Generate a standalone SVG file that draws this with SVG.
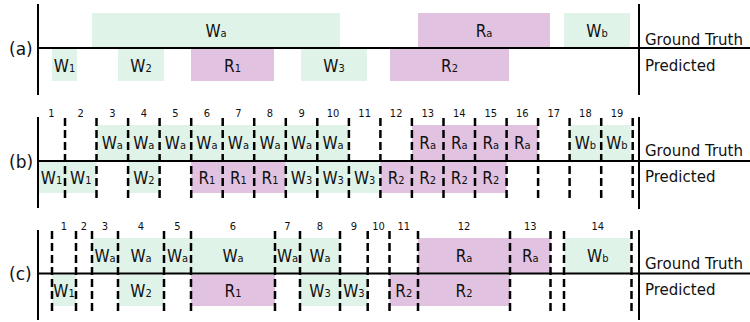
<svg xmlns="http://www.w3.org/2000/svg" width="750" height="322" viewBox="0 0 750 322">
<style>
.g{fill:#dff3e9}
.p{fill:#e1c2e0}
.ax{stroke:#000;stroke-width:2;fill:none}
.ds{stroke:#000;stroke-width:2.5;stroke-dasharray:8 4;fill:none}
text{font-family:"DejaVu Sans Condensed","DejaVu Sans",sans-serif;fill:#111}
.l{font-size:17px;text-anchor:middle}
.s{font-size:11px}
.n{font-size:11px;text-anchor:middle}
.side{font-family:"DejaVu Sans",sans-serif;font-size:15px}
.pn{font-family:"DejaVu Sans",sans-serif;font-size:17px}
</style>
<rect width="750" height="322" fill="#fff"/>

<!-- Panel (a) -->
<g id="panel-a">
  <g id="a-Wa"><rect class="g" x="92" y="13" width="248" height="34"/><text class="l" x="216" y="36.5">W<tspan class="s">a</tspan></text></g>
  <g id="a-Ra"><rect class="p" x="418" y="13" width="132" height="34"/><text class="l" x="484" y="36.5">R<tspan class="s">a</tspan></text></g>
  <g id="a-Wb"><rect class="g" x="564" y="13" width="66" height="34"/><text class="l" x="597" y="36.5">W<tspan class="s">b</tspan></text></g>
  <g id="a-W1"><rect class="g" x="52" y="49" width="25" height="32"/><text class="l" x="64.5" y="71.5">W<tspan class="s">1</tspan></text></g>
  <g id="a-W2"><rect class="g" x="118" y="49" width="46" height="32"/><text class="l" x="141" y="71.5">W<tspan class="s">2</tspan></text></g>
  <g id="a-R1"><rect class="p" x="191" y="49" width="83" height="32"/><text class="l" x="232.5" y="71.5">R<tspan class="s">1</tspan></text></g>
  <g id="a-W3"><rect class="g" x="301" y="49" width="66" height="32"/><text class="l" x="334" y="71.5">W<tspan class="s">3</tspan></text></g>
  <g id="a-R2"><rect class="p" x="390" y="49" width="119" height="32"/><text class="l" x="449.5" y="71.5">R<tspan class="s">2</tspan></text></g>
  <g id="a-lines">
    <line class="ax" x1="38" y1="4" x2="38" y2="95"/>
    <line class="ax" x1="38" y1="48" x2="750" y2="48"/>
    <line class="ax" x1="639" y1="4" x2="639" y2="95"/>
  </g>
  <text class="pn" x="9" y="55">(a)</text>
  <text class="side" x="645" y="45">Ground Truth</text>
  <text class="side" x="645" y="71">Predicted</text>
</g>

<!-- Panel (b) -->
<g id="panel-b">
  <g id="b-Wa"><rect class="g" x="96.5" y="125" width="252.4" height="35"/>
    <text class="l" x="112.3" y="149">W<tspan class="s">a</tspan></text>
    <text class="l" x="143.85" y="149">W<tspan class="s">a</tspan></text>
    <text class="l" x="175.4" y="149">W<tspan class="s">a</tspan></text>
    <text class="l" x="206.95" y="149">W<tspan class="s">a</tspan></text>
    <text class="l" x="238.45" y="149">W<tspan class="s">a</tspan></text>
    <text class="l" x="270" y="149">W<tspan class="s">a</tspan></text>
    <text class="l" x="301.55" y="149">W<tspan class="s">a</tspan></text>
    <text class="l" x="333.1" y="149">W<tspan class="s">a</tspan></text>
  </g>
  <g id="b-Ra"><rect class="p" x="411.9" y="125" width="126.2" height="35"/>
    <text class="l" x="427.7" y="149">R<tspan class="s">a</tspan></text>
    <text class="l" x="459.25" y="149">R<tspan class="s">a</tspan></text>
    <text class="l" x="490.8" y="149">R<tspan class="s">a</tspan></text>
    <text class="l" x="522.35" y="149">R<tspan class="s">a</tspan></text>
  </g>
  <g id="b-Wb"><rect class="g" x="569.6" y="125" width="61" height="35"/>
    <text class="l" x="585.4" y="149">W<tspan class="s">b</tspan></text>
    <text class="l" x="616.95" y="149">W<tspan class="s">b</tspan></text>
  </g>
  <g id="b-W1"><rect class="g" x="38" y="162" width="58.5" height="31"/>
    <text class="l" x="51.5" y="184">W<tspan class="s">1</tspan></text>
    <text class="l" x="80.75" y="184">W<tspan class="s">1</tspan></text>
  </g>
  <g id="b-W2"><rect class="g" x="128.1" y="162" width="31.5" height="31"/>
    <text class="l" x="143.85" y="184">W<tspan class="s">2</tspan></text>
  </g>
  <g id="b-R1"><rect class="p" x="191.2" y="162" width="94.6" height="31"/>
    <text class="l" x="206.95" y="184">R<tspan class="s">1</tspan></text>
    <text class="l" x="238.45" y="184">R<tspan class="s">1</tspan></text>
    <text class="l" x="270" y="184">R<tspan class="s">1</tspan></text>
  </g>
  <g id="b-W3"><rect class="g" x="285.8" y="162" width="94.6" height="31"/>
    <text class="l" x="301.55" y="184">W<tspan class="s">3</tspan></text>
    <text class="l" x="333.1" y="184">W<tspan class="s">3</tspan></text>
    <text class="l" x="364.65" y="184">W<tspan class="s">3</tspan></text>
  </g>
  <g id="b-R2"><rect class="p" x="380.4" y="162" width="126.2" height="31"/>
    <text class="l" x="396.15" y="184">R<tspan class="s">2</tspan></text>
    <text class="l" x="427.7" y="184">R<tspan class="s">2</tspan></text>
    <text class="l" x="459.25" y="184">R<tspan class="s">2</tspan></text>
    <text class="l" x="490.8" y="184">R<tspan class="s">2</tspan></text>
  </g>
  <g id="b-dashes">
    <line class="ds" x1="65" y1="118" x2="65" y2="200"/>
    <line class="ds" x1="96.5" y1="118" x2="96.5" y2="200"/>
    <line class="ds" x1="128.1" y1="118" x2="128.1" y2="200"/>
    <line class="ds" x1="159.6" y1="118" x2="159.6" y2="200"/>
    <line class="ds" x1="191.2" y1="118" x2="191.2" y2="200"/>
    <line class="ds" x1="222.7" y1="118" x2="222.7" y2="200"/>
    <line class="ds" x1="254.2" y1="118" x2="254.2" y2="200"/>
    <line class="ds" x1="285.8" y1="118" x2="285.8" y2="200"/>
    <line class="ds" x1="317.3" y1="118" x2="317.3" y2="200"/>
    <line class="ds" x1="348.9" y1="118" x2="348.9" y2="200"/>
    <line class="ds" x1="380.4" y1="118" x2="380.4" y2="200"/>
    <line class="ds" x1="411.9" y1="118" x2="411.9" y2="200"/>
    <line class="ds" x1="443.5" y1="118" x2="443.5" y2="200"/>
    <line class="ds" x1="475" y1="118" x2="475" y2="200"/>
    <line class="ds" x1="506.6" y1="118" x2="506.6" y2="200"/>
    <line class="ds" x1="538.1" y1="118" x2="538.1" y2="200"/>
    <line class="ds" x1="569.6" y1="118" x2="569.6" y2="200"/>
    <line class="ds" x1="601.2" y1="118" x2="601.2" y2="200"/>
    <line class="ds" x1="632.7" y1="118" x2="632.7" y2="200"/>
  </g>
  <g id="b-lines">
    <line class="ax" x1="38" y1="117" x2="38" y2="208"/>
    <line class="ax" x1="38" y1="161" x2="750" y2="161"/>
    <line class="ax" x1="639" y1="117" x2="639" y2="209"/>
  </g>
  <g id="b-nums">
    <text class="n" x="51.5" y="117">1</text>
    <text class="n" x="80.75" y="117">2</text>
    <text class="n" x="112.3" y="117">3</text>
    <text class="n" x="143.85" y="117">4</text>
    <text class="n" x="175.4" y="117">5</text>
    <text class="n" x="206.95" y="117">6</text>
    <text class="n" x="238.45" y="117">7</text>
    <text class="n" x="270" y="117">8</text>
    <text class="n" x="301.55" y="117">9</text>
    <text class="n" x="333.1" y="117">10</text>
    <text class="n" x="364.65" y="117">11</text>
    <text class="n" x="396.15" y="117">12</text>
    <text class="n" x="427.7" y="117">13</text>
    <text class="n" x="459.25" y="117">14</text>
    <text class="n" x="490.8" y="117">15</text>
    <text class="n" x="522.35" y="117">16</text>
    <text class="n" x="553.85" y="117">17</text>
    <text class="n" x="585.4" y="117">18</text>
    <text class="n" x="616.95" y="117">19</text>
  </g>
  <text class="pn" x="9" y="168">(b)</text>
  <text class="side" x="645" y="156">Ground Truth</text>
  <text class="side" x="645" y="182">Predicted</text>
</g>

<!-- Panel (c) -->
<g id="panel-c">
  <g id="c-Wa"><rect class="g" x="92" y="238" width="248" height="35"/>
    <text class="l" x="105" y="262">W<tspan class="s">a</tspan></text>
    <text class="l" x="141" y="262">W<tspan class="s">a</tspan></text>
    <text class="l" x="177.5" y="262">W<tspan class="s">a</tspan></text>
    <text class="l" x="233" y="262">W<tspan class="s">a</tspan></text>
    <text class="l" x="287.5" y="262">W<tspan class="s">a</tspan></text>
    <text class="l" x="320" y="262">W<tspan class="s">a</tspan></text>
  </g>
  <g id="c-Ra"><rect class="p" x="418" y="238" width="132.5" height="35"/>
    <text class="l" x="464" y="262">R<tspan class="s">a</tspan></text>
    <text class="l" x="530.3" y="262">R<tspan class="s">a</tspan></text>
  </g>
  <g id="c-Wb"><rect class="g" x="564" y="238" width="66.5" height="35"/>
    <text class="l" x="597.8" y="262">W<tspan class="s">b</tspan></text>
  </g>
  <g id="c-W1"><rect class="g" x="52" y="275" width="24" height="31"/>
    <text class="l" x="64" y="297">W<tspan class="s">1</tspan></text>
  </g>
  <g id="c-W2"><rect class="g" x="118" y="275" width="46" height="31"/>
    <text class="l" x="141" y="297">W<tspan class="s">2</tspan></text>
  </g>
  <g id="c-R1"><rect class="p" x="191" y="275" width="84" height="31"/>
    <text class="l" x="233" y="297">R<tspan class="s">1</tspan></text>
  </g>
  <g id="c-W3"><rect class="g" x="300" y="275" width="67.7" height="31"/>
    <text class="l" x="320" y="297">W<tspan class="s">3</tspan></text>
    <text class="l" x="353.9" y="297">W<tspan class="s">3</tspan></text>
  </g>
  <g id="c-R2"><rect class="p" x="389.5" y="275" width="120.5" height="31"/>
    <text class="l" x="403.8" y="297">R<tspan class="s">2</tspan></text>
    <text class="l" x="464" y="297">R<tspan class="s">2</tspan></text>
  </g>
  <g id="c-dashes">
    <line class="ds" x1="52" y1="231" x2="52" y2="312"/>
    <line class="ds" x1="76" y1="231" x2="76" y2="312"/>
    <line class="ds" x1="92" y1="231" x2="92" y2="312"/>
    <line class="ds" x1="118" y1="231" x2="118" y2="312"/>
    <line class="ds" x1="164" y1="231" x2="164" y2="312"/>
    <line class="ds" x1="191" y1="231" x2="191" y2="312"/>
    <line class="ds" x1="275" y1="231" x2="275" y2="312"/>
    <line class="ds" x1="300" y1="231" x2="300" y2="312"/>
    <line class="ds" x1="340" y1="231" x2="340" y2="312"/>
    <line class="ds" x1="367.7" y1="231" x2="367.7" y2="312"/>
    <line class="ds" x1="389.5" y1="231" x2="389.5" y2="312"/>
    <line class="ds" x1="418" y1="231" x2="418" y2="312"/>
    <line class="ds" x1="510" y1="231" x2="510" y2="312"/>
    <line class="ds" x1="550.5" y1="231" x2="550.5" y2="312"/>
    <line class="ds" x1="564" y1="231" x2="564" y2="312"/>
    <line class="ds" x1="631.5" y1="231" x2="631.5" y2="312"/>
  </g>
  <g id="c-lines">
    <line class="ax" x1="38" y1="230" x2="38" y2="320"/>
    <line class="ax" x1="38" y1="273.5" x2="750" y2="273.5"/>
    <line class="ax" x1="639" y1="230" x2="639" y2="320"/>
  </g>
  <g id="c-nums">
    <text class="n" x="64" y="230">1</text>
    <text class="n" x="84" y="230">2</text>
    <text class="n" x="105" y="230">3</text>
    <text class="n" x="141" y="230">4</text>
    <text class="n" x="177.5" y="230">5</text>
    <text class="n" x="233" y="230">6</text>
    <text class="n" x="287.5" y="230">7</text>
    <text class="n" x="320" y="230">8</text>
    <text class="n" x="353.9" y="230">9</text>
    <text class="n" x="378.6" y="230">10</text>
    <text class="n" x="403.8" y="230">11</text>
    <text class="n" x="464" y="230">12</text>
    <text class="n" x="530.3" y="230">13</text>
    <text class="n" x="597.8" y="230">14</text>
  </g>
  <text class="pn" x="9" y="280">(c)</text>
  <text class="side" x="645" y="269">Ground Truth</text>
  <text class="side" x="645" y="295">Predicted</text>
</g>
</svg>
